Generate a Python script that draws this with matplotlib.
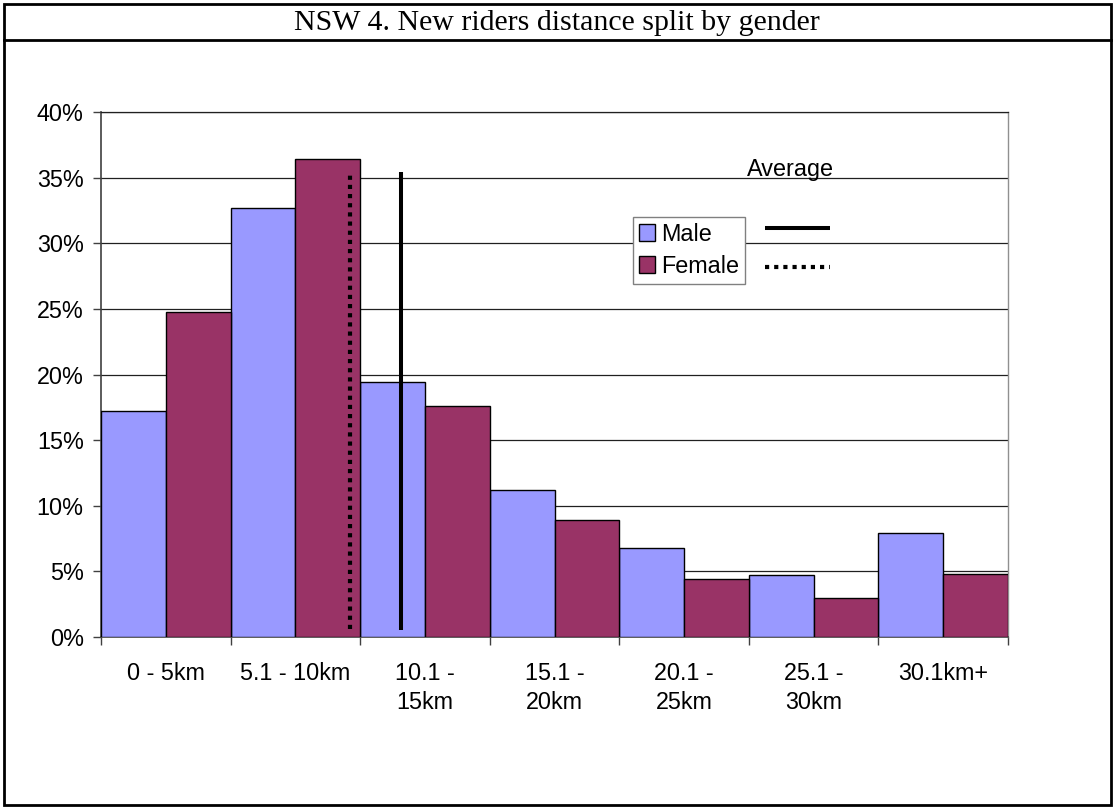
import numpy as np
import matplotlib.pyplot as plt
from matplotlib.patches import Patch, Rectangle
from matplotlib.lines import Line2D

# distance bands and share of new riders (%)
categories = ["0 - 5km", "5.1 - 10km", "10.1 -\n15km", "15.1 -\n20km",
              "20.1 -\n25km", "25.1 -\n30km", "30.1km+"]
male = [17.2, 32.7, 19.4, 11.2, 6.8, 4.7, 7.95]
female = [24.8, 36.4, 17.6, 8.95, 4.45, 3.0, 4.8]

# averages, in category-axis units
male_avg_x = 2.315
female_avg_x = 1.919
male_avg_span = [0.5, 35.4]
female_avg_span = [0.6, 35.2]

yticks = [0, 5, 10, 15, 20, 25, 30, 35, 40]

male_color = "#9999FF"
female_color = "#993366"
fs = 16.8

plt.rcParams["font.family"] = ["Liberation Sans", "DejaVu Sans"]

fig = plt.figure(figsize=(11.14, 8.07), dpi=100)
ax = fig.add_axes([101 / 1114, 1 - 637 / 807, 907 / 1114, 525 / 807])

x = np.arange(len(categories))
ax.bar(x, male, width=0.5, align="edge", color=male_color, edgecolor="black",
       linewidth=1.0, zorder=3, label="Male")
ax.bar(x + 0.5, female, width=0.5, align="edge", color=female_color, edgecolor="black",
       linewidth=1.0, zorder=3, label="Female")

# average lines
ax.plot([male_avg_x, male_avg_x], male_avg_span, color="black", lw=2.9,
        solid_capstyle="butt", zorder=4)
ax.plot([female_avg_x, female_avg_x], female_avg_span, color="black", lw=3.0,
        linestyle=(0, (1, 1.2)), dash_capstyle="butt", zorder=4)

ax.set_xlim(0, len(categories))
ax.set_ylim(0, 40)
ax.set_yticks(yticks)
ax.set_yticklabels([f"{v}%" for v in yticks], fontsize=fs)
ax.yaxis.grid(True, color="#202020", linewidth=0.9, zorder=0)
ax.set_axisbelow(True)
ax.tick_params(axis="y", length=5.5, width=1, color="#404040", pad=7)

ax.set_xticks(np.arange(len(categories) + 1))
ax.set_xticklabels([])
ax.set_xticks(x + 0.5, minor=True)
ax.set_xticklabels(categories, minor=True, fontsize=fs, linespacing=1.35, va="top")
ax.tick_params(axis="x", which="major", length=6, width=1, color="#404040")
ax.tick_params(axis="x", which="minor", length=0, pad=18)

for s in ["left", "bottom"]:
    ax.spines[s].set_color("#404040")
    ax.spines[s].set_linewidth(1.2)
ax.spines["top"].set_color("#202020")
ax.spines["top"].set_linewidth(0.9)
ax.spines["right"].set_color("#909090")
ax.spines["right"].set_linewidth(1.0)

handles = [Patch(facecolor=male_color, edgecolor="black", linewidth=1.0, label="Male"),
           Patch(facecolor=female_color, edgecolor="black", linewidth=1.0, label="Female")]
leg = ax.legend(handles=handles, loc="upper left", bbox_to_anchor=(0.5866, 0.80),
                borderaxespad=0, fontsize=fs, handlelength=0.7, handleheight=0.7,
                handletextpad=0.25, borderpad=0.25, labelspacing=0.38,
                fancybox=False, framealpha=1, edgecolor="#808080")
leg.get_frame().set_linewidth(1.0)
leg.set_zorder(5)

# average key beside the legend
ax.text(0.760, 0.890, "Average", transform=ax.transAxes, ha="center", va="center",
        fontsize=fs, zorder=5)
ax.add_line(Line2D([0.732, 0.804], [0.779, 0.779], transform=ax.transAxes, color="black",
                   lw=2.9, solid_capstyle="butt", zorder=5))
ax.add_line(Line2D([0.732, 0.804], [0.705, 0.705], transform=ax.transAxes, color="black",
                   lw=3.0, linestyle=(0, (1, 1.2)), dash_capstyle="butt", zorder=5))

# frame and title row
fig.add_artist(Rectangle((4 / 1114, 2 / 807), 1107 / 1114, 801 / 807, transform=fig.transFigure,
                         fill=False, edgecolor="black", linewidth=2.0))
fig.add_artist(Line2D([4 / 1114, 1111 / 1114], [1 - 40 / 807, 1 - 40 / 807],
                      transform=fig.transFigure, color="black", linewidth=2.0))
fig.text(0.5, 1 - 23 / 807, "NSW 4. New riders distance split by gender",
         ha="center", va="center", fontsize=21.5, family="Liberation Serif")

fig.savefig("out.png", dpi=100)
